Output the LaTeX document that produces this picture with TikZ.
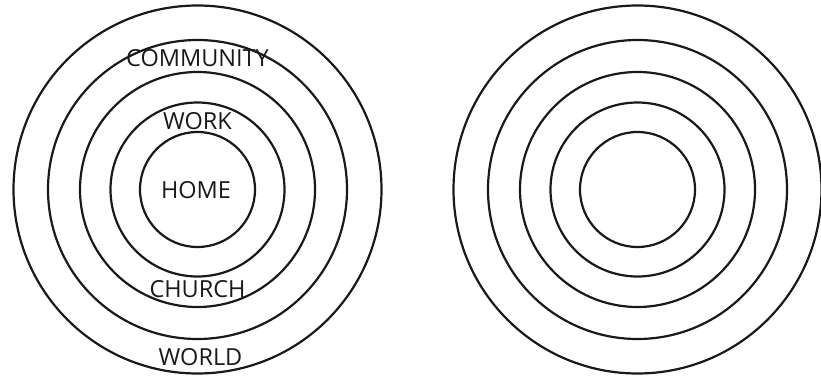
\documentclass[tikz,border=0pt]{standalone}
\usepackage{fontspec}
\setmainfont{Open Sans}
\usepackage{tikz}
\usetikzlibrary{positioning}

\begin{document}
\begin{tikzpicture}[
  x=1pt, y=-1pt,
  ring/.style={draw=black!90, line width=2.2pt},
  label/.style={font=\fontsize{23.5}{23.5}\selectfont, text=black!90, inner sep=0pt},
]

\useasboundingbox (0,0) rectangle (821,377);

% Left target with labels
\coordinate (lc) at (197.5,189.5);
\foreach \r in {57.5,87,117.5,149.5,184}
  \draw[ring] (lc) circle (\r);

\node[label] (home) at (196,190) {HOME};
\node[label] (work) at (197.5,121) {WORK};
\node[label] (community) at (197.5,58) {COMMUNITY};
\node[label] (church) at (197.5,289) {CHURCH};
\node[label] (world) at (200.5,357.5) {WORLD};

% Right target, empty
\coordinate (rc) at (637.5,189.5);
\foreach \r in {57.5,87,117.5,149.5,184}
  \draw[ring] (rc) circle (\r);

\end{tikzpicture}
\end{document}
